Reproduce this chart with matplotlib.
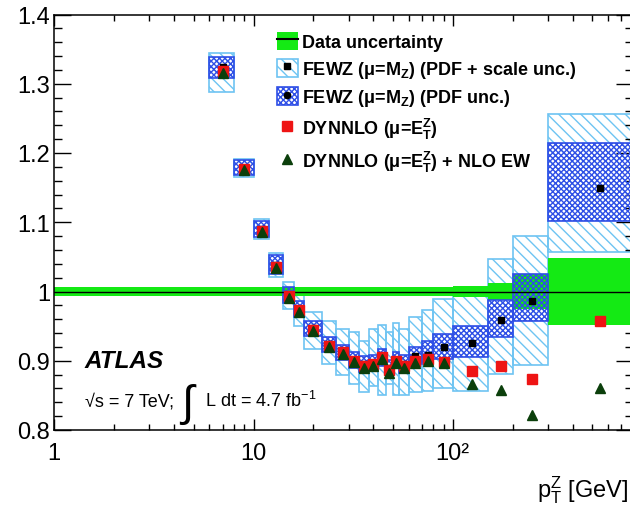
import numpy as np
import matplotlib
matplotlib.use('Agg')
import matplotlib.pyplot as plt
from matplotlib.patches import Patch
from matplotlib.lines import Line2D
from matplotlib.legend_handler import HandlerTuple
from matplotlib.ticker import FixedLocator, FixedFormatter, LogLocator, NullFormatter, MultipleLocator, FuncFormatter

plt.rcParams['font.family'] = ['Liberation Sans', 'DejaVu Sans']
plt.rcParams['mathtext.default'] = 'regular'
plt.rcParams['hatch.linewidth'] = 1.0

# ---------------- data ----------------
bin_edges = [6, 8, 10, 12, 14, 16, 18, 22, 26, 30, 34, 38, 42, 46, 50, 54, 60, 70, 80, 100, 150, 200, 300, 800]

fewz = [1.324, 1.178, 1.090, 1.038, 0.995, 0.975, 0.947, 0.924, 0.912, 0.901, 0.895, 0.897,
        0.905, 0.889, 0.901, 0.895, 0.907, 0.909, 0.920, 0.926, 0.959, 0.987, 1.150]
fewz_tot_lo = [1.288, 1.165, 1.076, 1.021, 0.975, 0.950, 0.917, 0.896, 0.880, 0.867, 0.855, 0.863,
               0.850, 0.867, 0.850, 0.850, 0.855, 0.857, 0.861, 0.857, 0.881, 0.894, 1.057]
fewz_tot_hi = [1.345, 1.192, 1.104, 1.055, 1.014, 0.995, 0.970, 0.957, 0.946, 0.942, 0.929, 0.946,
               0.952, 0.942, 0.955, 0.946, 0.963, 0.973, 0.989, 1.003, 1.047, 1.080, 1.256]
fewz_pdf_lo = [1.309, 1.168, 1.079, 1.025, 0.983, 0.963, 0.936, 0.913, 0.901, 0.890, 0.884, 0.886,
               0.893, 0.877, 0.889, 0.883, 0.896, 0.898, 0.903, 0.905, 0.935, 0.957, 1.1025]
fewz_pdf_hi = [1.338, 1.190, 1.102, 1.052, 1.007, 0.987, 0.958, 0.935, 0.923, 0.913, 0.907, 0.909,
               0.917, 0.901, 0.913, 0.908, 0.920, 0.928, 0.939, 0.9495, 0.988, 1.0255, 1.2146]
dynnlo = [1.318, 1.177, 1.088, 1.036, 0.993, 0.973, 0.945, 0.922, 0.912, 0.900, 0.893, 0.896,
          0.906, 0.886, 0.900, 0.893, 0.900, 0.903, 0.898, 0.885, 0.892, 0.873, 0.957]
dynnlo_ew = [1.316, 1.175, 1.086, 1.034, 0.991, 0.971, 0.943, 0.920, 0.910, 0.898, 0.890, 0.893,
             0.903, 0.883, 0.897, 0.890, 0.897, 0.900, 0.897, 0.866, 0.858, 0.822, 0.860]

data_edges = [1, 6, 8, 10, 12, 14, 16, 18, 22, 26, 30, 34, 38, 42, 46, 50, 54, 60, 70, 80, 100, 150, 200, 300, 800]
data_unc = [0.006, 0.006, 0.006, 0.006, 0.006, 0.006, 0.006, 0.006, 0.006, 0.006, 0.006, 0.006,
            0.006, 0.006, 0.006, 0.006, 0.006, 0.006, 0.007, 0.007, 0.008, 0.012, 0.025, 0.048]

x_ticks = [1, 10, 100]
x_ticklabels = ['1', '10', '10²']
y_ticks = [0.8, 0.9, 1.0, 1.1, 1.2, 1.3, 1.4]

labels = ['Data uncertainty',
          r'FEWZ ($\mu$=M$_Z$) (PDF + scale unc.)',
          r'FEWZ ($\mu$=M$_Z$) (PDF unc.)',
          r'DYNNLO ($\mu$=E$_T^Z$)',
          r'DYNNLO ($\mu$=E$_T^Z$) + NLO EW']

# ---------------- styles ----------------
GREEN = '#14ea14'
LIGHT = '#6ec4f2'
BLUE = '#2f4fe6'
RED = '#ee1414'
DKGREEN = '#0b3f0b'

edges = np.array(bin_edges, dtype=float)
left = edges[:-1]
width = np.diff(edges)
centers = 0.5 * (edges[:-1] + edges[1:])

fig = plt.figure(figsize=(6.3, 5.06), dpi=100)
x0, x1, ytop, ybot = 54.3, 632.6, 15.5, 431.0
ax = fig.add_axes([x0 / 630, 1 - ybot / 506, (x1 - x0) / 630, (ybot - ytop) / 506])
ax.set_xscale('log')

# total (PDF+scale) boxes
tlo = np.array(fewz_tot_lo); thi = np.array(fewz_tot_hi)
ax.bar(left, thi - tlo, bottom=tlo, width=width, align='edge', facecolor='none',
       edgecolor=LIGHT, hatch='\\' * 3, linewidth=1.2, zorder=1)

# data band
de = np.array(data_edges, dtype=float)
du = np.array(data_unc + [data_unc[-1]])
ax.fill_between(de, 1 - du, 1 + du, step='post', color=GREEN, linewidth=0, zorder=2)

# PDF boxes
plo = np.array(fewz_pdf_lo); phi = np.array(fewz_pdf_hi)
ax.bar(left, phi - plo, bottom=plo, width=width, align='edge', facecolor='none',
       edgecolor=BLUE, hatch='x' * 6, linewidth=1.2, zorder=3)

ax.axhline(1.0, color='black', lw=1.0, zorder=4)

ax.plot(centers, fewz, 's', color='black', ms=4, zorder=5, linestyle='none')
ax.plot(centers, dynnlo, 's', color=RED, ms=7, zorder=6, linestyle='none')
ax.plot(centers, dynnlo_ew, '^', color=DKGREEN, ms=7.5, zorder=7, linestyle='none')

ax.set_xlim(1, 800)
ax.set_ylim(0.8, 1.4)

ax.xaxis.set_major_locator(FixedLocator(x_ticks))
ax.xaxis.set_major_formatter(FixedFormatter(x_ticklabels))
ax.xaxis.set_minor_locator(LogLocator(base=10, subs=np.arange(2, 10)))
ax.xaxis.set_minor_formatter(NullFormatter())
ax.yaxis.set_major_locator(FixedLocator(y_ticks))
ax.yaxis.set_major_formatter(FuncFormatter(lambda v, p: f'{v:g}'))
ax.yaxis.set_minor_locator(MultipleLocator(0.02))

ax.tick_params(which='both', direction='in', top=True, right=True, width=1.0, labelsize=17)
ax.tick_params(axis='y', which='major', length=12, pad=3)
ax.tick_params(axis='y', which='minor', length=6)
ax.tick_params(axis='x', which='major', length=8, pad=9)
ax.tick_params(axis='x', which='minor', length=4.5)
for s in ax.spines.values():
    s.set_linewidth(1.1)

ax.set_xlabel(r'p$_T^Z$ [GeV]', fontsize=17, loc='right', va='baseline')
ax.xaxis.set_label_coords((628 - x0) / (x1 - x0), -0.159)

# legend
h_data = (Patch(facecolor=GREEN, edgecolor='none'), Line2D([], [], color='black', lw=1.5))
h_tot = (Patch(facecolor='white', edgecolor=LIGHT, hatch='\\' * 3, lw=1.2),
         Line2D([], [], marker='s', color='black', ms=4, linestyle='none'))
h_pdf = (Patch(facecolor='none', edgecolor=BLUE, hatch='x' * 6, lw=1.2),
         Line2D([], [], marker='o', color='black', ms=4.5, linestyle='none'))
h_dy = Line2D([], [], marker='s', color=RED, ms=7, linestyle='none')
h_ew = Line2D([], [], marker='^', color=DKGREEN, ms=7.5, linestyle='none')
leg = ax.legend([h_data, h_tot, h_pdf, h_dy, h_ew], labels,
                handler_map={tuple: HandlerTuple(ndivide=1, pad=0)},
                loc='upper left', bbox_to_anchor=(0.385, 0.958), frameon=False,
                prop={'weight': 'bold', 'size': 13}, borderpad=0, borderaxespad=0,
                handlelength=1.15, handleheight=1.15, handletextpad=0.25, labelspacing=0.42)
leg.set_zorder(10)

# ATLAS label
ax.text(0.053, 0.152, 'ATLAS', fontsize=17.5, weight='bold', style='italic',
        transform=ax.transAxes, va='baseline')
ax.text(0.053, 0.058, '√s = 7 TeV;', fontsize=13, transform=ax.transAxes, va='baseline')
ax.text(0.23, 0.065, '∫', fontsize=32, transform=ax.transAxes, ha='center', va='center')
ax.text(0.2606, 0.058, r'L dt = 4.7 fb$^{-1}$', fontsize=13, transform=ax.transAxes, va='baseline')

fig.savefig('out.png', dpi=100, facecolor='white')
